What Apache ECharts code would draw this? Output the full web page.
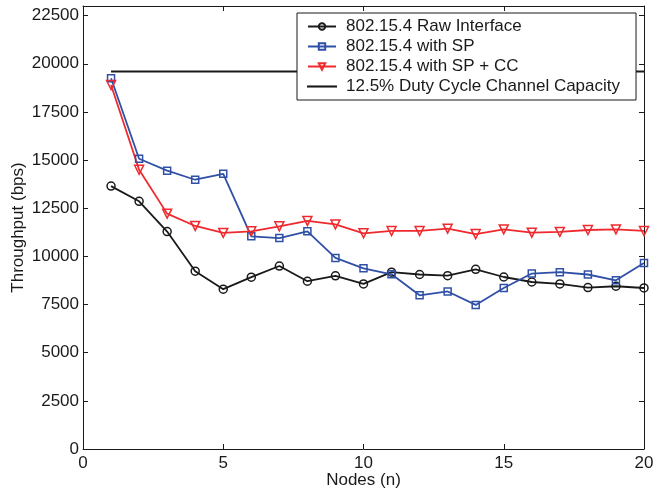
<!DOCTYPE html>
<html>
<head>
<meta charset="utf-8">
<script src="https://cdn.jsdelivr.net/npm/echarts@6/dist/echarts.min.js"></script>
<style>
  html, body { margin: 0; padding: 0; background: #fff; }
  #chart { width: 656px; height: 490px; }
</style>
</head>
<body>
<div id="chart"></div>
<script>
"use strict";

var nodes = [1, 2, 3, 4, 5, 6, 7, 8, 9, 10, 11, 12, 13, 14, 15, 16, 17, 18, 19, 20];
var rawInterface = [13650, 12860, 11290, 9230, 8300, 8920, 9500, 8710, 8990, 8570, 9180, 9060, 9000, 9330, 8930, 8670, 8570, 8380, 8450, 8360];
var withSP = [19250, 15070, 14450, 13980, 14290, 11040, 10950, 11300, 9920, 9380, 9070, 7980, 8180, 7480, 8360, 9110, 9180, 9060, 8760, 9660];
var withSPCC = [18900, 14500, 12220, 11580, 11220, 11300, 11560, 11840, 11660, 11200, 11320, 11320, 11440, 11160, 11400, 11230, 11270, 11370, 11400, 11320];
var capacityX = [1, 20];
var capacity = [19600, 19600];
var seriesNames = ['802.15.4 Raw Interface', '802.15.4 with SP', '802.15.4 with SP + CC', '12.5% Duty Cycle Channel Capacity'];

var black = '#1a1a1a';
var blue = '#2f50a6';
var red = '#ee2a2f';
var font = 'Liberation Sans, Arial, sans-serif';

function pairs(xs, ys) {
	var out = [];
	for (var i = 0; i < xs.length; i++) {
		out.push([xs[i], ys[i]]);
	}
	return out;
}

function lineSeries(name, xs, ys, color, symbol, size, rotate) {
	return {
		name: name,
		type: 'line',
		data: pairs(xs, ys),
		symbol: symbol,
		symbolSize: size,
		symbolRotate: rotate || 0,
		showSymbol: symbol !== 'none',
		color: color,
		lineStyle: { color: color, width: 1.8 },
		itemStyle: { color: 'rgba(255,255,255,0)', borderColor: color, borderWidth: 1.5 },
		emphasis: { disabled: true },
		animation: false
	};
}

var myChart = echarts.init(document.getElementById('chart'), null, { renderer: 'canvas' });

var tickStyle = { show: true, inside: true, length: 5, lineStyle: { color: black, width: 1 } };
var lineAxis = { show: true, onZero: false, lineStyle: { color: black, width: 1 } };
var plain = function(v) { return String(v); };

myChart.setOption({
	backgroundColor: '#fff',
	textStyle: { fontFamily: font },
	grid: { left: 83, right: 12, top: 6, bottom: 41, containLabel: false, outerBoundsMode: 'none' },
	xAxis: [{
		type: 'value', min: 0, max: 20, interval: 5,
		name: 'Nodes (n)', nameLocation: 'middle', nameGap: 23, nameMoveOverlap: false,
		nameTextStyle: { fontSize: 17, color: black, fontFamily: font },
		axisLine: lineAxis, axisTick: tickStyle,
		axisLabel: { fontSize: 17, color: black, margin: 6, fontFamily: font, formatter: plain },
		splitLine: { show: false }
	}, {
		type: 'value', min: 0, max: 20, interval: 5, position: 'top',
		axisLine: lineAxis, axisTick: tickStyle,
		axisLabel: { show: false }, splitLine: { show: false }
	}],
	yAxis: [{
		type: 'value', min: 0, max: 23000, interval: 2500,
		name: 'Throughput (bps)', nameLocation: 'middle', nameGap: 56, nameMoveOverlap: false,
		nameTextStyle: { fontSize: 17, color: black, fontFamily: font },
		axisLine: lineAxis, axisTick: tickStyle,
		axisLabel: { fontSize: 17, color: black, margin: 4, showMaxLabel: false, fontFamily: font, formatter: plain },
		splitLine: { show: false }
	}, {
		type: 'value', min: 0, max: 23000, interval: 2500, position: 'right',
		axisLine: lineAxis, axisTick: tickStyle,
		axisLabel: { show: false }, splitLine: { show: false }
	}],
	legend: {
		data: [
			seriesNames[0], seriesNames[1], seriesNames[2],
			{ name: seriesNames[3], icon: 'path://M0,0H56V0.2H0Z' }
		],
		orient: 'vertical',
		left: 297, top: 13,
		itemWidth: 28, itemHeight: 8, itemGap: 3,
		padding: [5, 16, 5, 10],
		backgroundColor: '#fff',
		borderColor: black, borderWidth: 1, borderRadius: 0,
		textStyle: { fontSize: 17, color: black, fontFamily: font, padding: [0, 0, 0, 5] },
		z: 10
	},
	series: [
		lineSeries(seriesNames[3], capacityX, capacity, black, 'none', 0),
		lineSeries(seriesNames[0], nodes, rawInterface, black, 'circle', 8),
		lineSeries(seriesNames[1], nodes, withSP, blue, 'rect', 7),
		lineSeries(seriesNames[2], nodes, withSPCC, red, 'triangle', 9, 180)
	]
});
</script>
</body>
</html>
